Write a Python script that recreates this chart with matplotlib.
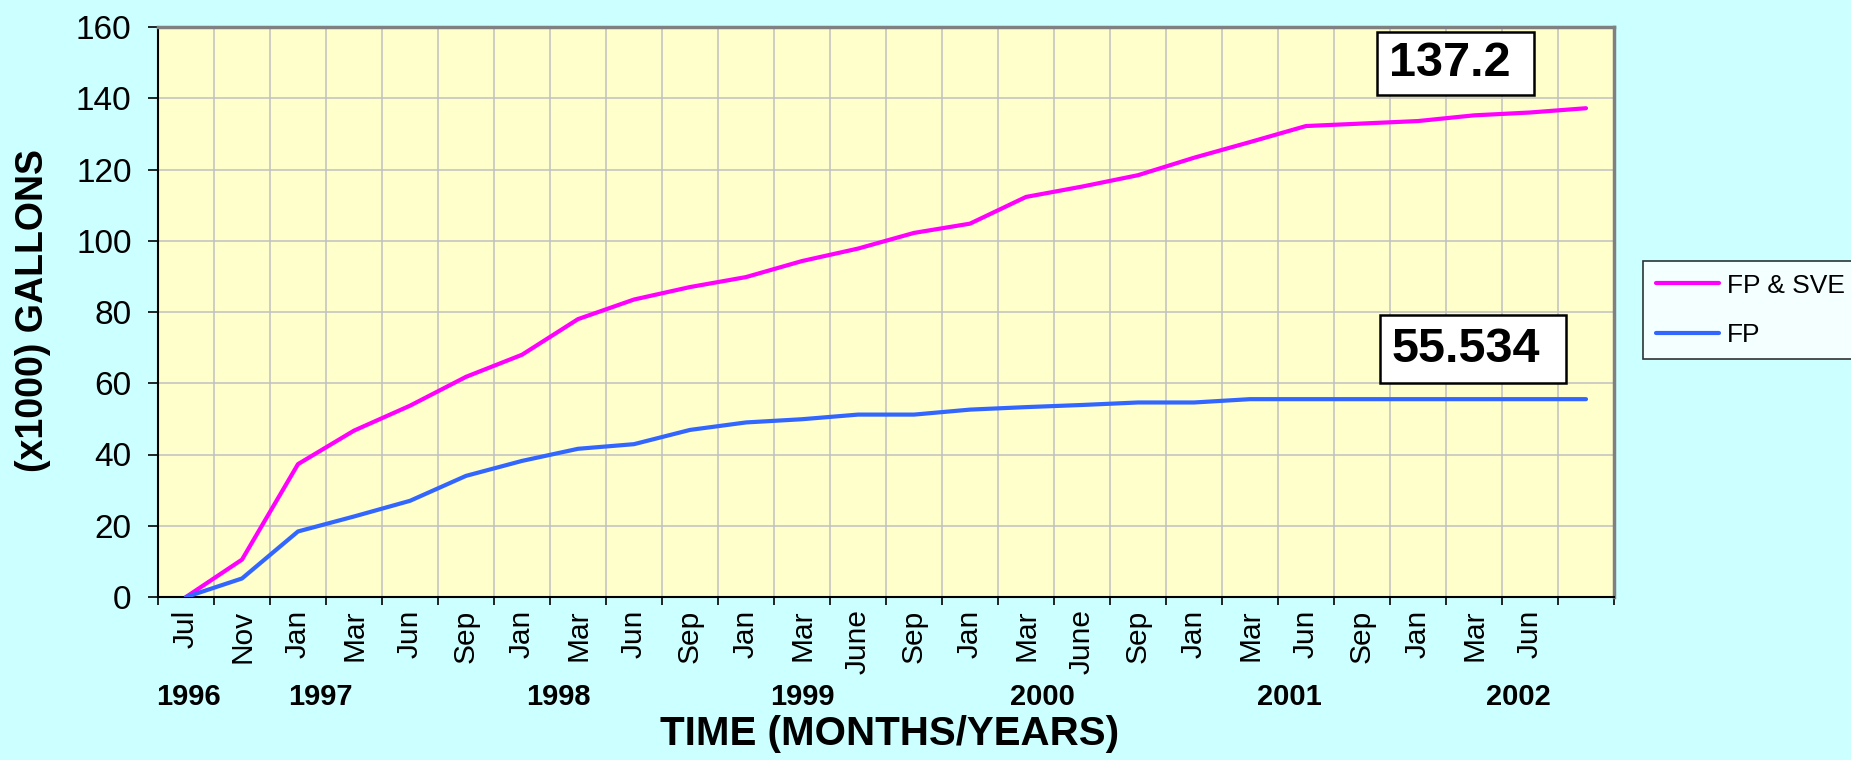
import matplotlib
matplotlib.use('Agg')
import matplotlib.pyplot as plt
import matplotlib.transforms as mtransforms
from matplotlib.patches import Rectangle

months = ['Jul', 'Nov', 'Jan', 'Mar', 'Jun', 'Sep', 'Jan', 'Mar', 'Jun', 'Sep',
          'Jan', 'Mar', 'June', 'Sep', 'Jan', 'Mar', 'June', 'Sep', 'Jan', 'Mar',
          'Jun', 'Sep', 'Jan', 'Mar', 'Jun', '']
fp_sve = [0, 10.5, 37.3, 46.7, 53.7, 61.8, 68.0, 78.0, 83.5, 87.0,
          89.8, 94.3, 97.8, 102.2, 104.8, 112.3, 115.2, 118.4, 123.3, 127.7,
          132.2, 132.9, 133.6, 135.2, 136.0, 137.2]
fp = [0, 5.2, 18.4, 22.6, 27.0, 34.0, 38.2, 41.6, 42.9, 46.9,
      49.0, 49.9, 51.2, 51.2, 52.6, 53.3, 53.9, 54.6, 54.6, 55.534,
      55.534, 55.534, 55.534, 55.534, 55.534, 55.534]
years = ['1996', '1997', '1998', '1999', '2000', '2001', '2002']
year_pos = [0.05, 2.4, 6.65, 11.0, 15.3, 19.7, 23.8]

plt.rcParams['font.family'] = ['Liberation Sans', 'DejaVu Sans']

fig = plt.figure(figsize=(18.51, 7.60), dpi=100, facecolor='#CCFFFF')
ax = fig.add_axes([158 / 1851, 1 - 597 / 760, (1614 - 158) / 1851, (597 - 27) / 760])
ax.set_facecolor('#FFFFCC')

x = list(range(len(months)))
ax.plot(x, fp_sve, color='#FF00FF', lw=3, label='FP & SVE', solid_capstyle='round', zorder=3)
ax.plot(x, fp, color='#3366FF', lw=3, label='FP', solid_capstyle='round', zorder=3)

ax.set_xlim(-0.5, len(months) - 0.5)
ax.set_ylim(0, 160)
ax.set_yticks(range(0, 161, 20))
ax.set_xticks(x)
ax.set_xticklabels(months, rotation=90, fontsize=21.5)
ax.set_xticks([i + 0.5 for i in range(-1, len(months))], minor=True)
ax.tick_params(axis='x', which='major', length=0, pad=9)
ax.tick_params(axis='x', which='minor', length=6, width=1.2, direction='out')
ax.tick_params(axis='y', labelsize=24, length=7, width=1.2, pad=12)

ax.grid(True, axis='y', color='#C0C0C0', lw=1.1)
ax.grid(True, axis='x', which='minor', color='#C0C0C0', lw=1.1)
ax.set_axisbelow(True)

for side in ['left', 'bottom']:
    ax.spines[side].set_color('black')
    ax.spines[side].set_linewidth(1.5)
for side in ['top', 'right']:
    ax.spines[side].set_color('#808080')
    ax.spines[side].set_linewidth(2.5)

fig.text(33 / 1851, 1 - 311 / 760, '(x1000) GALLONS', rotation=90, fontsize=27,
         fontweight='bold', ha='center', va='center')
fig.text(890 / 1851, 1 - 734 / 760, 'TIME (MONTHS/YEARS)', fontsize=29,
         fontweight='bold', ha='center', va='center')

trans = mtransforms.blended_transform_factory(ax.transData, fig.transFigure)
for yr, pos in zip(years, year_pos):
    ax.text(pos, 1 - 697 / 760, yr, transform=trans, fontsize=21, fontweight='bold',
            ha='center', va='center')

# value boxes
boxes = [(1377, 32, 1534, 95, '137.2', 1389, 64),
         (1380, 315, 1566, 383, '55.534', 1392, 349)]
for x0, y0, x1, y1, txt, tx, ty in boxes:
    fig.patches.append(Rectangle((x0 / 1851, 1 - y1 / 760), (x1 - x0) / 1851, (y1 - y0) / 760,
                                 transform=fig.transFigure, facecolor='white',
                                 edgecolor='black', lw=1.8, zorder=5))
    fig.text(tx / 1851, 1 - ty / 760, txt, fontsize=35, fontweight='bold',
             ha='left', va='center', zorder=6)

leg = fig.legend(loc='upper left', bbox_to_anchor=(1643 / 1851, 1 - 261 / 760),
                 fontsize=19, frameon=True, fancybox=False,
                 handlelength=2.4, handletextpad=0.3, labelspacing=0.95,
                 borderpad=0.48, borderaxespad=0)
leg.get_frame().set_edgecolor('black')
leg.get_frame().set_linewidth(1.2)
leg.get_frame().set_facecolor('white')

fig.savefig('out.png', dpi=100, facecolor=fig.get_facecolor())
